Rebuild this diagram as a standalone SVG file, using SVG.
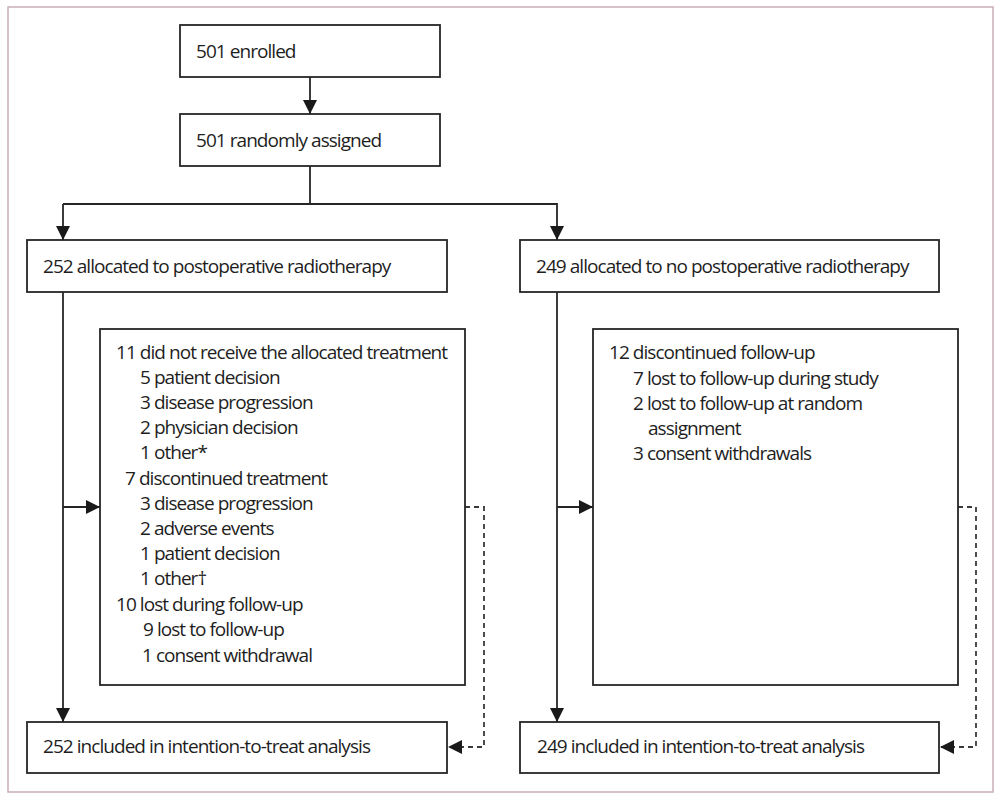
<svg xmlns="http://www.w3.org/2000/svg" width="999" height="799" viewBox="0 0 999 799">
<style>
.frame{fill:#fff;stroke:#c9afb6;stroke-width:1.5}
.box{fill:#fff;stroke:#262626;stroke-width:1.8}
.t{font-family:"Open Sans","Noto Sans",sans-serif;font-size:19px;letter-spacing:-0.95px;fill:#1e1e1e}
.ln{fill:none;stroke:#262626;stroke-width:1.8}
.dash{fill:none;stroke:#3a3a3a;stroke-width:1.8;stroke-dasharray:5,4}
</style>
<defs>
<marker id="ah" markerUnits="userSpaceOnUse" markerWidth="14" markerHeight="14" viewBox="0 0 14 14" refX="14" refY="7" orient="auto">
<path d="M0,0 L14,7 L0,14 Z" fill="#1a1a1a"/>
</marker>
</defs>
<rect class="frame" x="8" y="7" width="985" height="785"/>
<g id="connectors">
<line class="ln" x1="310" y1="77" x2="310" y2="114" marker-end="url(#ah)"/>
<line class="ln" x1="310" y1="166" x2="310" y2="204"/>
<polyline class="ln" points="63,204 557,204 557,240" marker-end="url(#ah)"/>
<line class="ln" x1="63" y1="204" x2="63" y2="240" marker-end="url(#ah)"/>
<line class="ln" x1="63" y1="292" x2="63" y2="722" marker-end="url(#ah)"/>
<line class="ln" x1="63" y1="507" x2="100" y2="507" marker-end="url(#ah)"/>
<line class="ln" x1="557" y1="292" x2="557" y2="722" marker-end="url(#ah)"/>
<line class="ln" x1="557" y1="507" x2="593" y2="507" marker-end="url(#ah)"/>
<polyline class="dash" points="465,507 484,507 484,747 448,747" marker-end="url(#ah)"/>
<polyline class="dash" points="958,507 976,507 976,747 940,747" marker-end="url(#ah)"/>
</g>
<g id="enrolled">
<rect class="box" x="180" y="25" width="260" height="52"/>
<text class="t" x="196" y="58">501 enrolled</text>
</g>
<g id="randomised">
<rect class="box" x="180" y="114" width="260" height="52"/>
<text class="t" x="196" y="147">501 randomly assigned</text>
</g>
<g id="alloc-rt">
<rect class="box" x="27" y="240" width="420" height="52"/>
<text class="t" x="43" y="273">252 allocated to postoperative radiotherapy</text>
</g>
<g id="alloc-nort">
<rect class="box" x="520" y="240" width="419" height="52"/>
<text class="t" x="536" y="273">249 allocated to no postoperative radiotherapy</text>
</g>
<g id="excl-rt">
<rect class="box" x="100" y="329" width="365" height="356"/>
<text class="t" x="116" y="359">11 did not receive the allocated treatment</text>
<text class="t" x="140" y="384">5 patient decision</text>
<text class="t" x="140" y="409">3 disease progression</text>
<text class="t" x="140" y="434">2 physician decision</text>
<text class="t" x="140" y="459">1 other*</text>
<text class="t" x="125" y="485">7 discontinued treatment</text>
<text class="t" x="140" y="510">3 disease progression</text>
<text class="t" x="140" y="535">2 adverse events</text>
<text class="t" x="140" y="560">1 patient decision</text>
<text class="t" x="140" y="585">1 other†</text>
<text class="t" x="116" y="611">10 lost during follow-up</text>
<text class="t" x="143" y="636">9 lost to follow-up</text>
<text class="t" x="142" y="662">1 consent withdrawal</text>
</g>
<g id="excl-nort">
<rect class="box" x="593" y="329" width="365" height="356"/>
<text class="t" x="609" y="359">12 discontinued follow-up</text>
<text class="t" x="633" y="385">7 lost to follow-up during study</text>
<text class="t" x="633" y="410">2 lost to follow-up at random</text>
<text class="t" x="648" y="435">assignment</text>
<text class="t" x="633" y="460">3 consent withdrawals</text>
</g>
<g id="itt-rt">
<rect class="box" x="27" y="722" width="420" height="51"/>
<text class="t" x="43" y="753">252 included in intention-to-treat analysis</text>
</g>
<g id="itt-nort">
<rect class="box" x="520" y="722" width="419" height="51"/>
<text class="t" x="537" y="753">249 included in intention-to-treat analysis</text>
</g>
</svg>
